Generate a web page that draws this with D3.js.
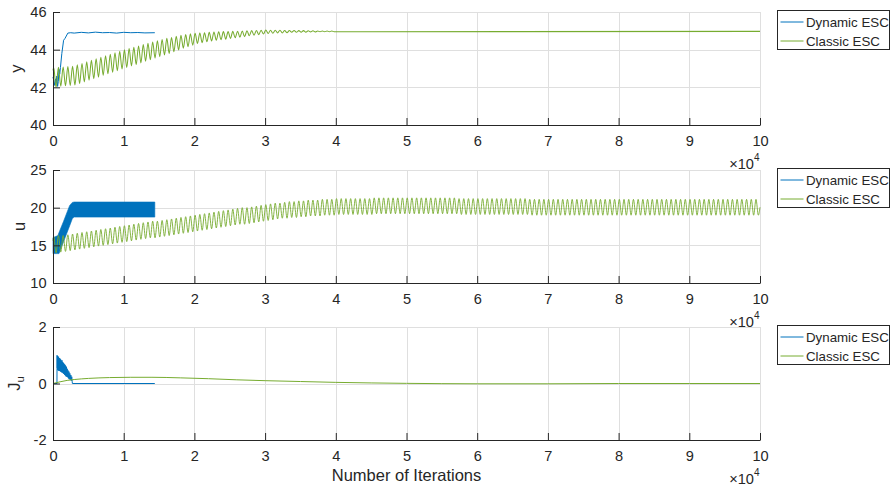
<!DOCTYPE html>
<html>
<head>
<meta charset="utf-8">
<script src="https://cdn.jsdelivr.net/npm/d3@7"></script>
<style>
  body { margin: 0; background: #fff; }
  text { font-family: "Liberation Sans", Arial, Helvetica, sans-serif; fill: #262626; }
</style>
</head>
<body>
<svg id="fig" width="891" height="489"></svg>
<script>
// ---- data ---------------------------------------------------------------
const seriesNames = ["Dynamic ESC", "Classic ESC"];
const xTickLabels = [0, 1, 2, 3, 4, 5, 6, 7, 8, 9, 10];   // x 10^4 iterations
const yTicksY = [40, 42, 44, 46];
const yTicksU = [10, 15, 20, 25];
const yTicksJ = [-2, 0, 2];

// Classic ESC: one dither cycle every 1e5/150 iterations
const classicCycles = 150;
const classicStartY = 42.9;
const classicStartU = 15.6;

// Classic ESC output y: peak / trough of each dither cycle, then settled level
const classicYPeak = [
  43.05,43.06,43.08,43.10,43.12,43.20,43.27,43.36,43.44,43.52,
  43.60,43.68,43.76,43.84,43.91,43.99,44.06,44.13,44.20,44.27,
  44.34,44.41,44.47,44.54,44.60,44.65,44.71,44.76,44.80,44.84,
  44.87,44.89,44.90,44.92,44.94,44.95,44.96,44.96,44.97,44.98,
  44.99,45.00,45.01,45.02,45.03,45.04,45.03,45.03,45.03,45.02,
  45.02,45.02,45.01,45.01,45.00,45.00,44.99,44.99,44.99,44.99
];
const classicYTrough = [
  42.00,42.06,42.08,42.10,42.12,42.20,42.29,42.38,42.46,42.54,
  42.64,42.72,42.80,42.88,42.97,43.05,43.14,43.21,43.30,43.39,
  43.46,43.55,43.63,43.72,43.80,43.89,43.99,44.08,44.16,44.24,
  44.33,44.37,44.42,44.46,44.50,44.53,44.56,44.60,44.63,44.66,
  44.69,44.74,44.77,44.80,44.83,44.86,44.87,44.89,44.89,44.90,
  44.92,44.92,44.93,44.93,44.94,44.94,44.95,44.95,44.95,44.95
];
const classicYSettled = 44.97;

// Classic ESC input u: peak / trough of each dither cycle
const classicUPeak = [
  16.2,16.3,16.3,16.4,16.5,16.6,16.7,16.8,16.9,17.0,
  17.1,17.2,17.3,17.4,17.5,17.6,17.7,17.8,17.9,18.0,
  18.1,18.2,18.2,18.3,18.4,18.5,18.6,18.7,18.8,18.9,
  19.0,19.1,19.2,19.3,19.4,19.5,19.6,19.7,19.8,19.9,
  20.0,20.0,20.1,20.2,20.3,20.4,20.5,20.6,20.6,20.7,
  20.8,20.8,20.9,20.9,21.0,21.0,21.0,21.1,21.1,21.1,
  21.2,21.2,21.2,21.2,21.2,21.2,21.2,21.2,21.3,21.3,
  21.3,21.3,21.3,21.3,21.3,21.3,21.3,21.3,21.3,21.3,
  21.3,21.3,21.3,21.3,21.3,21.3,21.2,21.2,21.2,21.2,
  21.2,21.2,21.2,21.2,21.2,21.2,21.2,21.2,21.2,21.2,
  21.2,21.1,21.1,21.1,21.1,21.1,21.1,21.1,21.1,21.1,
  21.1,21.1,21.1,21.1,21.1,21.1,21.1,21.1,21.1,21.1,
  21.1,21.1,21.1,21.1,21.1,21.1,21.1,21.1,21.1,21.1,
  21.1,21.1,21.1,21.1,21.1,21.1,21.1,21.1,21.1,21.1,
  21.1,21.1,21.1,21.1,21.1,21.1,21.1,21.1,21.1,21.1
];
const classicUTrough = [
  14.0,14.1,14.2,14.3,14.4,14.5,14.6,14.7,14.8,14.9,
  15.0,15.1,15.2,15.3,15.4,15.5,15.6,15.7,15.8,15.9,
  16.0,16.0,16.1,16.2,16.3,16.4,16.5,16.6,16.7,16.8,
  16.9,17.0,17.1,17.2,17.3,17.4,17.5,17.6,17.7,17.8,
  17.8,17.9,18.0,18.1,18.2,18.3,18.4,18.5,18.6,18.6,
  18.7,18.7,18.8,18.8,18.9,18.9,18.9,19.0,19.0,19.0,
  19.1,19.1,19.1,19.1,19.1,19.1,19.1,19.1,19.2,19.2,
  19.2,19.2,19.2,19.2,19.2,19.2,19.2,19.2,19.2,19.2,
  19.2,19.2,19.2,19.2,19.2,19.2,19.1,19.1,19.1,19.1,
  19.1,19.1,19.1,19.1,19.1,19.1,19.1,19.1,19.1,19.1,
  19.1,19.0,19.0,19.0,19.0,19.0,19.0,19.0,19.0,19.0,
  19.0,19.0,19.0,19.0,19.0,19.0,19.0,19.0,19.0,19.0,
  19.0,19.0,19.0,19.0,19.0,19.0,19.0,19.0,19.0,19.0,
  19.0,19.0,19.0,19.0,19.0,19.0,19.0,19.0,19.0,19.0,
  19.0,19.0,19.0,19.0,19.0,19.0,19.0,19.0,19.0,19.0
];
const classicUEnd = 20.05;

// Classic ESC gradient estimate J_u
const classicJIter = [0, 1000, 2000, 3000, 5000, 8000, 11000, 14000, 18000, 22000, 26000, 30000, 35000, 40000, 45000, 50000, 55000, 60000, 70000, 80000, 90000, 100000];
const classicJVal  = [0, 0.06, 0.11, 0.14, 0.18, 0.21, 0.22, 0.22, 0.20, 0.17, 0.13, 0.10, 0.07, 0.04, 0.02, 0.005, -0.005, -0.01, -0.01, 0, 0, 0];

// Dynamic ESC output y
const dynYIter = [0, 150, 250, 350, 450, 550, 650, 750, 850, 950, 1050, 1250, 1500, 1700, 2100, 2500, 3000, 4000, 5000, 6000, 7000, 8000, 9000, 10000, 11000, 12000, 13000, 14400];
const dynYVal  = [42.55, 42.3, 42.1, 42.45, 42.2, 42.6, 42.05, 42.3, 42.95, 42.7, 43.05, 43.8, 44.5, 44.6, 44.88, 44.9, 44.88, 44.92, 44.89, 44.93, 44.9, 44.91, 44.88, 44.92, 44.9, 44.91, 44.89, 44.9];

// Dynamic ESC input u: envelope of its fast dither band
const dynUIter = [0, 700, 850, 1500, 2360, 2740, 3000, 14400];
const dynUHigh = [16.0, 16.3, 16.7, 18.2, 20.3, 20.7, 20.75, 20.75];
const dynULow  = [13.9, 13.9, 13.9, 15.5, 17.6, 18.55, 18.75, 18.75];

// Dynamic ESC gradient estimate J_u
const dynJIter = [0, 560, 575, 610, 645, 680, 715, 750, 790, 830, 870, 910, 950, 990, 1030, 1070, 1110, 1150, 1190, 1230, 1270, 1310, 1350, 1390, 1430, 1470, 1510, 1560, 1610, 1660, 1710, 1760, 1810, 1860, 1910, 1960, 2010, 2070, 2130, 2190, 2250, 2310, 2380, 2450, 2520, 2590, 2650, 2710, 2740, 14400];
const dynJVal  = [0, 0, 1.0, 0.55, 0.97, 0.48, 0.93, 0.45, 0.95, 0.5, 0.88, 0.44, 0.9, 0.46, 0.86, 0.42, 0.84, 0.45, 0.8, 0.4, 0.82, 0.38, 0.76, 0.4, 0.74, 0.35, 0.72, 0.34, 0.68, 0.3, 0.66, 0.28, 0.62, 0.25, 0.58, 0.24, 0.52, 0.22, 0.46, 0.18, 0.42, 0.15, 0.36, 0.13, 0.3, 0.1, 0.24, 0.08, 0, 0];

// ---- drawing ------------------------------------------------------------
const colDyn = "#0072BD";
const colCls = "#77AC30";
const axisCol = "#262626";
const gridCol = "#dfdfdf";
const svg = d3.select("#fig");

const x = d3.scaleLinear().domain([0, 100000]).range([53, 760]);
const xTickVals = xTickLabels.map(v => v * 1e4);

const period = 100000 / classicCycles;
function cyclePoints(peaks, troughs, start) {
  const pts = [[0, start]];
  peaks.forEach((p, i) => {
    pts.push([i * period + 100, p]);
    pts.push([i * period + 100 + period / 2, troughs[i]]);
  });
  return pts;
}

const panels = [
  { top: 12, bottom: 125, dom: [40, 46], ticks: yTicksY },
  { top: 170, bottom: 283, dom: [10, 25], ticks: yTicksU },
  { top: 327, bottom: 440, dom: [-2, 2], ticks: yTicksJ }
];
panels.forEach(p => { p.y = d3.scaleLinear().domain(p.dom).range([p.bottom, p.top]); });

function drawFrame(p) {
  const g = svg.append("g");
  g.selectAll(".gx").data(xTickVals).join("line")
    .attr("x1", d => Math.round(x(d)) + 0.5).attr("x2", d => Math.round(x(d)) + 0.5)
    .attr("y1", p.top).attr("y2", p.bottom)
    .attr("stroke", gridCol).attr("stroke-width", 1);
  g.selectAll(".gy").data(p.ticks).join("line")
    .attr("y1", d => Math.round(p.y(d)) + 0.5).attr("y2", d => Math.round(p.y(d)) + 0.5)
    .attr("x1", x.range()[0]).attr("x2", x.range()[1] + 1)
    .attr("stroke", gridCol).attr("stroke-width", 1);
  return g;
}

function drawAxes(p) {
  const ax = svg.append("g").attr("transform", `translate(0,${p.bottom})`)
    .call(d3.axisBottom(x).tickValues(xTickVals).tickFormat(d => d / 1e4)
      .tickSizeInner(-7).tickSizeOuter(0).tickPadding(11));
  const ay = svg.append("g").attr("transform", `translate(${x.range()[0]},0)`)
    .call(d3.axisLeft(p.y).tickValues(p.ticks).tickFormat(d => String(d))
      .tickSizeInner(-7).tickSizeOuter(0).tickPadding(6.5));
  [ax, ay].forEach(a => {
    a.selectAll("path, line").attr("stroke", axisCol);
    a.selectAll("text").attr("fill", axisCol)
      .style("font-family", '"Liberation Sans", Arial, sans-serif').style("font-size", "14.6px");
  });
  const m = svg.append("text").attr("x", 759.5).attr("y", p.bottom + 43.5)
    .attr("text-anchor", "end").style("font-size", "14.6px");
  m.append("tspan").text("\u00d710");
  m.append("tspan").attr("dy", -7.5).style("font-size", "10px").text("4");
}

function drawLegend(p) {
  const top = p.top - 1.5;
  const g = svg.append("g");
  g.append("rect").attr("x", 777.5).attr("y", top).attr("width", 112).attr("height", 39)
    .attr("fill", "#fff").attr("stroke", axisCol).attr("stroke-width", 1);
  [colDyn, colCls].forEach((c, i) => {
    const yy = top + 11.5 + i * 19;
    g.append("line").attr("x1", 780.5).attr("x2", 803.5).attr("y1", yy).attr("y2", yy)
      .attr("stroke", c).attr("stroke-width", 1);
    g.append("text").attr("x", 806).attr("y", yy + 4.7).style("font-size", "13.3px").text(seriesNames[i]);
  });
}

const lineGen = (p, curve) => d3.line().x(d => x(d[0])).y(d => p.y(d[1])).curve(curve || d3.curveLinear);

// ---- panel 1: y ----
{
  const p = panels[0];
  drawFrame(p);
  svg.append("path").datum(dynYIter.map((t, i) => [t, dynYVal[i]]))
    .attr("d", lineGen(p)).attr("fill", "none").attr("stroke", colDyn).attr("stroke-width", 1);
  const pts = cyclePoints(classicYPeak, classicYTrough, classicStartY);
  pts.push([100000, classicYSettled]);
  svg.append("path").datum(pts)
    .attr("d", lineGen(p, d3.curveMonotoneX)).attr("fill", "none").attr("stroke", colCls).attr("stroke-width", 1.05);
  drawAxes(p);
  drawLegend(p);
}

// ---- panel 2: u ----
{
  const p = panels[1];
  drawFrame(p);
  const band = dynUIter.map((t, i) => [t, dynULow[i], dynUHigh[i]]);
  svg.append("path").datum(band)
    .attr("d", d3.area().x(d => x(d[0])).y0(d => p.y(d[1])).y1(d => p.y(d[2])))
    .attr("fill", colDyn).attr("stroke", colDyn).attr("stroke-width", 0.6);
  const pts = cyclePoints(classicUPeak, classicUTrough, classicStartU);
  pts.push([100000, classicUEnd]);
  svg.append("path").datum(pts)
    .attr("d", lineGen(p, d3.curveMonotoneX)).attr("fill", "none").attr("stroke", colCls).attr("stroke-width", 0.9);
  drawAxes(p);
  drawLegend(p);
}

// ---- panel 3: J_u ----
{
  const p = panels[2];
  drawFrame(p);
  svg.append("path").datum(dynJIter.map((t, i) => [t, dynJVal[i]]))
    .attr("d", lineGen(p)).attr("fill", "none").attr("stroke", colDyn).attr("stroke-width", 1);
  svg.append("path").datum(classicJIter.map((t, i) => [t, classicJVal[i]]))
    .attr("d", lineGen(p, d3.curveMonotoneX)).attr("fill", "none").attr("stroke", colCls).attr("stroke-width", 1);
  drawAxes(p);
  drawLegend(p);
}

// ---- axis labels ----
svg.append("text").attr("transform", "translate(21.5,68.5) rotate(-90)")
  .attr("text-anchor", "middle").style("font-size", "16.5px").text("y");
svg.append("text").attr("transform", "translate(24.5,226.5) rotate(-90)")
  .attr("text-anchor", "middle").style("font-size", "16.5px").text("u");
{
  const t = svg.append("text").attr("transform", "translate(20,383.5) rotate(-90)")
    .attr("text-anchor", "middle").style("font-size", "16.5px");
  t.append("tspan").text("J");
  t.append("tspan").attr("dy", 3.5).style("font-size", "11.5px").text("u");
}
svg.append("text").attr("x", 406.5).attr("y", 481).attr("text-anchor", "middle")
  .style("font-size", "16.5px").text("Number of Iterations");
</script>
</body>
</html>
